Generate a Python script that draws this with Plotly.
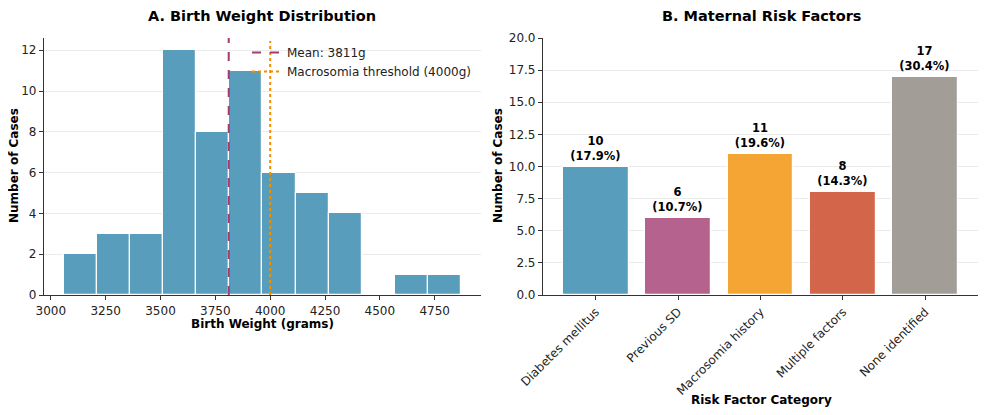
import plotly.graph_objects as go

# ---- Data ----
bin_start = 3060.0
bin_width = 150.8
hist_counts = [2, 3, 3, 12, 8, 11, 6, 5, 4, 0, 1, 1]
mean_weight = 3811
macrosomia_threshold = 4000

risk_categories = ["Diabetes mellitus", "Previous SD", "Macrosomia history",
                   "Multiple factors", "None identified"]
risk_counts = [10, 6, 11, 8, 17]
risk_colors = ["#589EBC", "#B5628E", "#F4A534", "#D2654A", "#A29E97"]

x_ticks_left = [3000, 3250, 3500, 3750, 4000, 4250, 4500, 4750]

# ---- Derived ----
bin_edges = [bin_start + i * bin_width for i in range(len(hist_counts) + 1)]
bin_centers = [(bin_edges[i] + bin_edges[i + 1]) / 2 for i in range(len(hist_counts))]
total_cases = sum(hist_counts)
risk_labels = [f"<b>{c}<br>({c / total_cases * 100:.1f}%)</b>" for c in risk_counts]

FONT = "DejaVu Sans"
AXIS_COL = "#333333"

# figure is placed inside the page body (8px default margin)
W, H, OFF = 970, 399, 8


def px_x(x):
    return (x - OFF) / W


def px_y(y):
    return 1 - (y - OFF) / H


fig = go.Figure()

fig.add_trace(go.Bar(
    x=bin_centers, y=hist_counts, width=bin_width,
    marker=dict(color="#589EBC", line=dict(color="white", width=1.2)),
    xaxis="x", yaxis="y", showlegend=False, hoverinfo="x+y",
))

fig.add_trace(go.Scatter(
    x=[mean_weight, mean_weight], y=[0, 12.6], mode="lines",
    line=dict(color="#A23B72", width=2, dash="dash"),
    name=f"Mean: {mean_weight}g", xaxis="x", yaxis="y",
))
fig.add_trace(go.Scatter(
    x=[macrosomia_threshold, macrosomia_threshold], y=[0, 12.45], mode="lines",
    line=dict(color="#F18F01", width=2, dash="dot"),
    name=f"Macrosomia threshold ({macrosomia_threshold}g)", xaxis="x", yaxis="y",
))

fig.add_trace(go.Bar(
    x=list(range(len(risk_categories))), y=risk_counts, width=0.8,
    marker=dict(color=risk_colors, line=dict(color="white", width=1.2)),
    text=risk_labels, textposition="outside", cliponaxis=False,
    textfont=dict(family=FONT, size=11.5, color="black"),
    xaxis="x2", yaxis="y2", showlegend=False,
))

ax_common = dict(
    showline=True, linecolor=AXIS_COL, linewidth=1.2,
    ticks="outside", tickcolor=AXIS_COL, ticklen=4, tickwidth=1,
    tickfont=dict(family=FONT, size=12, color="#222222"),
    zeroline=False, automargin=False,
)


def ann(text, x, y, size=12, angle=0):
    return dict(text=text, x=px_x(x), y=px_y(y), xref="paper", yref="paper",
                xanchor="center", yanchor="middle", showarrow=False, textangle=angle,
                font=dict(family=FONT, size=size, color="black"))


fig.update_layout(
    width=W, height=H,
    margin=dict(l=0, r=0, t=0, b=0, autoexpand=False),
    paper_bgcolor="white", plot_bgcolor="white",
    bargap=0,
    font=dict(family=FONT, color="#222222"),
    xaxis=dict(domain=[px_x(44), px_x(481)], range=[2969, 4961],
               tickvals=x_ticks_left, showgrid=False, anchor="y", **ax_common),
    yaxis=dict(domain=[px_y(295), px_y(38)], range=[0, 12.6], dtick=2,
               showgrid=True, gridcolor="#EBEBEB", gridwidth=1, anchor="x", **ax_common),
    xaxis2=dict(domain=[px_x(543), 1.0], range=[-0.64, 4.64],
                tickvals=list(range(len(risk_categories))), ticktext=risk_categories,
                tickangle=-45, showgrid=False, anchor="y2", **ax_common),
    yaxis2=dict(domain=[px_y(295), px_y(38)], range=[0, 20], dtick=2.5, tickformat=".1f",
                showgrid=True, gridcolor="#EBEBEB", gridwidth=1, anchor="x2", **ax_common),
    legend=dict(x=px_x(247), y=px_y(38), xanchor="left", yanchor="top",
                bgcolor="rgba(0,0,0,0)", font=dict(family=FONT, size=12, color="#222222"),
                itemwidth=30, tracegroupgap=0),
    annotations=[
        ann("<b>A. Birth Weight Distribution</b>", 262, 16, size=14.5),
        ann("<b>B. Maternal Risk Factors</b>", 761, 16, size=14.5),
        ann("<b>Birth Weight (grams)</b>", 262, 324),
        ann("<b>Risk Factor Category</b>", 761, 400),
        ann("<b>Number of Cases</b>", 14, 166, angle=-90),
        ann("<b>Number of Cases</b>", 498, 166, angle=-90),
    ],
)

fig.write_html("out.html")
